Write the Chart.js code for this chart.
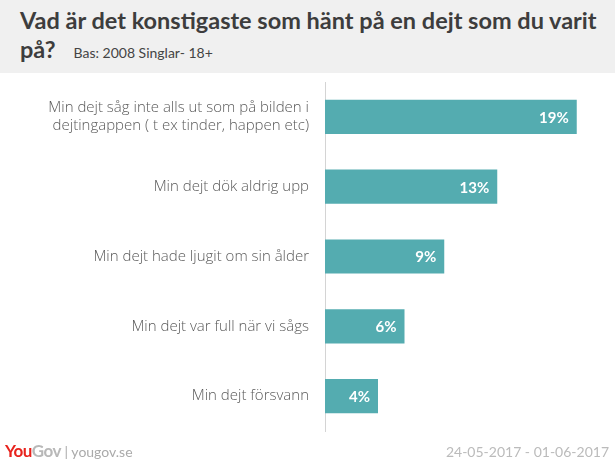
<!DOCTYPE html>
<html>
<head>
<meta charset="utf-8">
<script src="https://cdn.jsdelivr.net/npm/chart.js@4.4.0/dist/chart.umd.min.js"></script>
<style>
    body { margin: 0; background: #fff; font-family: Lato, "Open Sans", sans-serif; }
    #wrap { position: relative; width: 615px; height: 465px; overflow: hidden; }
    #header { position: absolute; left: 0; top: 0; width: 615px; height: 73px; background: #f0f0f0; }
    #title { position: absolute; left: 20px; top: 6px; width: 590px; font-size: 23.5px; font-weight: bold; color: #3d3d3d; line-height: 29px; }
    #title .sub { font-size: 14px; font-weight: normal; color: #444; margin-left: 18px; }
    #chart { position: absolute; left: 0; top: 0; }
    #footer-left { position: absolute; left: 5px; top: 440px; font-size: 14px; color: #aaa; }
    #footer-left .you { color: #e8231d; font-weight: bold; font-size: 17px; letter-spacing: -0.5px; }
    #footer-left .gov { color: #b8b8b8; font-weight: bold; font-size: 17px; letter-spacing: -0.5px; }
    #footer-right { position: absolute; right: 6px; top: 443px; font-size: 14px; color: #bbb; }
</style>
</head>
<body>
<div id="wrap">
    <div id="header">
        <div id="title">Vad är det konstigaste som hänt på en dejt som du varit på?<span class="sub">Bas: 2008 Singlar- 18+</span></div>
    </div>
    <canvas id="chart" width="615" height="465"></canvas>
    <div id="footer-left"><span class="you">You</span><span class="gov">Gov</span> | yougov.se</div>
    <div id="footer-right">24-05-2017 - 01-06-2017</div>
</div>
<script>
// Chart data
const categories = [
    ['Min dejt såg inte alls ut som på bilden i', 'dejtingappen ( t ex tinder, happen etc)'],
    'Min dejt dök aldrig upp',
    'Min dejt hade ljugit om sin ålder',
    'Min dejt var full när vi sågs',
    'Min dejt försvann'
];
const values = [19, 13, 9, 6, 4];
const axisMax = 20;

const barColor = '#54acb0';

// Draws the white percentage labels inside the bar ends
const valueLabels = {
    id: 'valueLabels',
    afterDatasetsDraw(chart) {
        const ctx = chart.ctx;
        const meta = chart.getDatasetMeta(0);
        ctx.save();
        ctx.font = 'bold 15px Lato, "Open Sans", sans-serif';
        ctx.fillStyle = '#ffffff';
        ctx.textAlign = 'right';
        ctx.textBaseline = 'middle';
        meta.data.forEach((bar, i) => {
            ctx.fillText(values[i] + '%', bar.x - 8, bar.y + 1);
        });
        ctx.restore();
    }
};

new Chart(document.getElementById('chart'), {
    type: 'bar',
    data: {
        labels: categories,
        datasets: [{
            data: values,
            backgroundColor: barColor,
            categoryPercentage: 1,
            barPercentage: 0.49
        }]
    },
    options: {
        indexAxis: 'y',
        responsive: false,
        animation: false,
        devicePixelRatio: 1,
        layout: {
            padding: { top: 82, bottom: 26, left: 0, right: 25 }
        },
        plugins: {
            legend: { display: false },
            tooltip: { enabled: false }
        },
        scales: {
            x: {
                display: false,
                min: 0,
                max: axisMax
            },
            y: {
                afterFit(scale) { scale.width = 325; },
                grid: { display: false, drawTicks: false },
                border: { display: true, color: '#d4d4d4', width: 1 },
                ticks: {
                    padding: 16,
                    color: '#5a5a5a',
                    font: { family: '"Open Sans", Lato, sans-serif', size: 15, weight: '300' },
                    autoSkip: false
                }
            }
        }
    },
    plugins: [valueLabels]
});
</script>
</body>
</html>
